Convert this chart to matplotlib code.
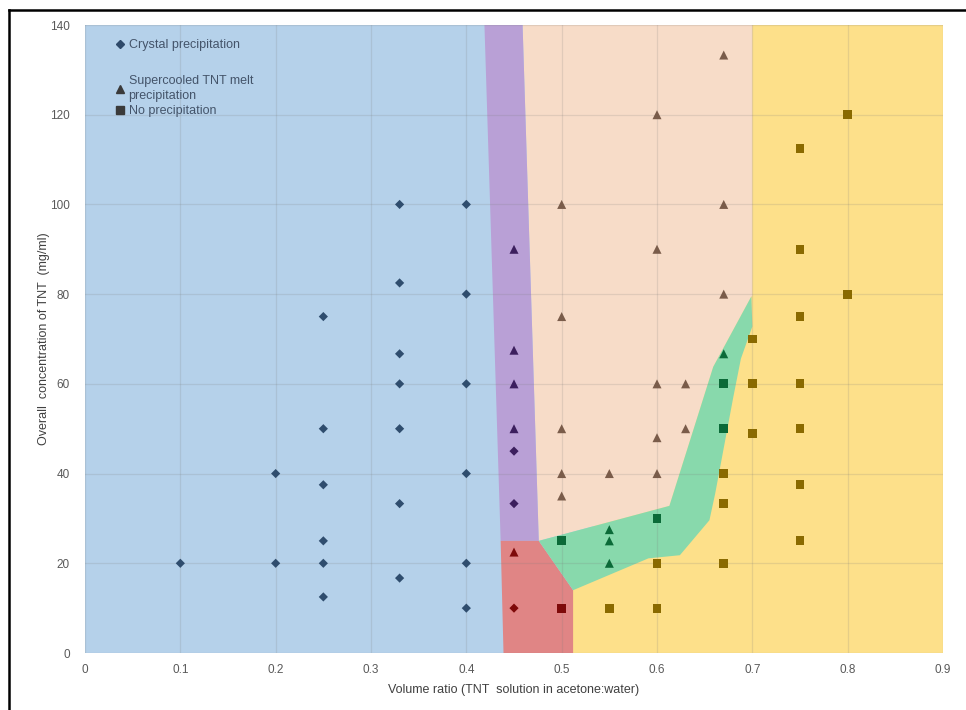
import matplotlib
matplotlib.use("Agg")
import matplotlib.pyplot as plt
from matplotlib.lines import Line2D
from matplotlib.patches import Polygon

plt.rcParams['font.family'] = ['Liberation Sans', 'DejaVu Sans']

# ---------------- data ----------------
# Crystal precipitation (diamonds)
crystal_blue_x = [0.1, 0.2, 0.2, 0.25, 0.25, 0.25, 0.25, 0.25, 0.25,
                  0.33, 0.33, 0.33, 0.33, 0.33, 0.33, 0.33,
                  0.4, 0.4, 0.4, 0.4, 0.4, 0.4]
crystal_blue_y = [20, 20, 40, 12.5, 20, 25, 37.5, 50, 75,
                  16.7, 33.3, 50, 60, 66.7, 82.5, 100,
                  10, 20, 40, 60, 80, 100]
crystal_purple_x = [0.45, 0.45]
crystal_purple_y = [33.3, 45]
crystal_red_x = [0.45]
crystal_red_y = [10]

# Supercooled TNT melt precipitation (triangles)
super_purple_x = [0.45, 0.45, 0.45, 0.45]
super_purple_y = [90, 67.5, 60, 50]
super_red_x = [0.45]
super_red_y = [22.5]
super_tan_x = [0.5, 0.5, 0.5, 0.5, 0.5, 0.55, 0.6, 0.6, 0.6, 0.6, 0.6,
               0.63, 0.63, 0.67, 0.67, 0.67]
super_tan_y = [100, 75, 50, 40, 35, 40, 120, 90, 60, 48, 40,
               60, 50, 133.3, 100, 80]
super_green_x = [0.55, 0.55, 0.55, 0.67]
super_green_y = [27.5, 25, 20, 66.7]

# No precipitation (squares)
none_red_x = [0.5]
none_red_y = [10]
none_green_x = [0.5, 0.6, 0.67, 0.67]
none_green_y = [25, 30, 60, 50]
none_gold_x = [0.55, 0.6, 0.6, 0.67, 0.67, 0.67, 0.7, 0.7, 0.7,
               0.75, 0.75, 0.75, 0.75, 0.75, 0.75, 0.75, 0.8, 0.8]
none_gold_y = [10, 10, 20, 40, 33.3, 20, 70, 60, 49,
               112.5, 90, 75, 60, 50, 37.5, 25, 120, 80]

# Region boundaries (volume ratio, concentration)
purple_region_x = [0.419, 0.459, 0.476, 0.436]
purple_region_y = [140, 140, 25, 25]
red_region_x = [0.436, 0.476, 0.512, 0.512, 0.439]
red_region_y = [25, 25, 14, 0, 0]
green_region_x = [0.476, 0.613, 0.659, 0.699, 0.700, 0.688, 0.680, 0.661, 0.655, 0.624, 0.591, 0.512]
green_region_y = [25, 32.8, 63.8, 79.5, 72.8, 65.6, 57.0, 35.5, 29.6, 21.8, 21.1, 14]
tan_region_x = [0.459, 0.700, 0.700, 0.699, 0.659, 0.613, 0.476]
tan_region_y = [140, 140, 79.5, 79.5, 63.8, 32.8, 25]
gold_region_x = [0.700, 0.9, 0.9, 0.512, 0.512]
gold_region_y = [140, 140, 0, 0, 14]

x_ticks = [0, 0.1, 0.2, 0.3, 0.4, 0.5, 0.6, 0.7, 0.8, 0.9]
x_tick_labels = ['0', '0.1', '0.2', '0.3', '0.4', '0.5', '0.6', '0.7', '0.8', '0.9']
y_ticks = [0, 20, 40, 60, 80, 100, 120, 140]
y_tick_labels = ['0', '20', '40', '60', '80', '100', '120', '140']

# ---------------- figure ----------------
fig = plt.figure(figsize=(9.66, 7.10), dpi=100)
ax = fig.add_axes([85 / 966, 1 - 653 / 710, (943 - 85) / 966, (653 - 25) / 710])
ax.set_xlim(0, 0.9)
ax.set_ylim(0, 140)
ax.set_facecolor('#b5d1ea')

def region(xs, ys, color):
    ax.add_patch(Polygon(list(zip(xs, ys)), closed=True, facecolor=color,
                         edgecolor='none', zorder=1))

region(gold_region_x, gold_region_y, '#fde08a')
region(tan_region_x, tan_region_y, '#f7dcc8')
region(purple_region_x, purple_region_y, '#b9a0d6')
region(red_region_x, red_region_y, '#e08585')
region(green_region_x, green_region_y, '#88d9ac')

ax.set_axisbelow(False)
ax.grid(True, color='#7a7a7a', alpha=0.18, linewidth=0.9, zorder=2)

def pts(xs, ys, marker, color, size):
    ax.scatter(xs, ys, marker=marker, s=size, color=color, edgecolors='none', zorder=3)

C_BLUE = '#2f4d6e'
C_PURPLE = '#3c1f5e'
C_RED = '#7e0a0a'
C_TAN = '#7a5c4a'
C_GREEN = '#0b6a38'
C_GOLD = '#8a6a00'

pts(crystal_blue_x, crystal_blue_y, 'D', C_BLUE, 22)
pts(crystal_purple_x, crystal_purple_y, 'D', C_PURPLE, 22)
pts(crystal_red_x, crystal_red_y, 'D', C_RED, 22)

pts(super_purple_x, super_purple_y, '^', C_PURPLE, 42)
pts(super_red_x, super_red_y, '^', C_RED, 42)
pts(super_tan_x, super_tan_y, '^', C_TAN, 42)
pts(super_green_x, super_green_y, '^', C_GREEN, 42)

pts(none_red_x, none_red_y, 's', C_RED, 40)
pts(none_green_x, none_green_y, 's', C_GREEN, 40)
pts(none_gold_x, none_gold_y, 's', C_GOLD, 40)

ax.set_xticks(x_ticks)
ax.set_xticklabels(x_tick_labels)
ax.set_yticks(y_ticks)
ax.set_yticklabels(y_tick_labels)
ax.tick_params(axis='both', length=0, labelsize=8.5, labelcolor='#595959')
ax.tick_params(axis='y', pad=11)
ax.tick_params(axis='x', pad=8)
for s in ax.spines.values():
    s.set_visible(False)

ax.set_xlabel('Volume ratio (TNT  solution in acetone:water)', fontsize=9,
              color='#404040', labelpad=6)
ax.set_ylabel('Overall  concentration of TNT  (mg/ml)', fontsize=9,
              color='#404040', labelpad=0)

# legend (two blocks to reproduce the uneven spacing of the original)
leg_kw = dict(frameon=False, fontsize=9, handlelength=0.6, handletextpad=0.35,
              borderaxespad=0, borderpad=0)
h1 = [Line2D([], [], linestyle='none', marker='D', markersize=4.5, color='#2f4a6a')]
leg1 = ax.legend(h1, ['Crystal precipitation'], loc='upper left',
                 bbox_to_anchor=(0.037, 0.977), **leg_kw)
for t in leg1.get_texts():
    t.set_color('#44546a')
leg1.set_zorder(5)
ax.add_artist(leg1)

h2 = [Line2D([], [], linestyle='none', marker='^', markersize=6, color='#3a3a3a'),
      Line2D([], [], linestyle='none', marker='s', markersize=5.5, color='#3a3a3a')]
leg2 = ax.legend(h2, ['Supercooled TNT melt\nprecipitation', 'No precipitation'],
                 loc='upper left', bbox_to_anchor=(0.037, 0.920), labelspacing=0.25,
                 **leg_kw)
for t in leg2.get_texts():
    t.set_color('#44546a')
    t.set_linespacing(1.3)
leg2.set_zorder(5)

# outer frame lines (left and top)
fig.add_artist(Line2D([9 / 966, 9 / 966], [0, 1 - 10 / 710], transform=fig.transFigure,
                      color='black', linewidth=1.8))
fig.add_artist(Line2D([9 / 966, 1], [1 - 10 / 710, 1 - 10 / 710], transform=fig.transFigure,
                      color='black', linewidth=1.8))

fig.savefig('out.png', dpi=100)
